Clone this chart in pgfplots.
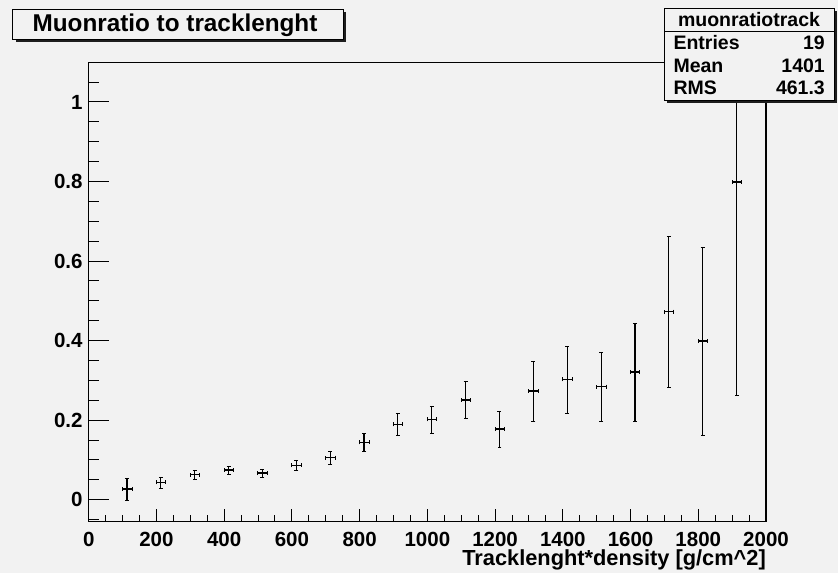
\documentclass[border=0pt]{standalone}
\usepackage{pgfplots}
\pgfplotsset{compat=1.18}
\usepackage{fontspec}
\setmainfont{Liberation Sans}
\definecolor{bg}{RGB}{242,242,242}
\definecolor{shadowc}{RGB}{30,30,30}

\pgfplotstableread{
x y ex ey
113 0.0270 14 0.0280
213 0.0437 14 0.0138
313 0.0629 14 0.0113
413 0.0747 14 0.0104
513 0.0671 14 0.0108
613 0.0865 14 0.0129
713 0.1056 14 0.0167
813 0.1443 14 0.0226
913 0.1896 14 0.0285
1013 0.2022 14 0.0340
1113 0.2507 14 0.0460
1213 0.1778 14 0.0449
1313 0.2733 14 0.0754
1413 0.3027 14 0.0842
1513 0.2841 14 0.0867
1613 0.3211 14 0.1228
1713 0.4727 14 0.1910
1813 0.3990 14 0.2363
1913 0.7988 14 0.5370
}\datatable

\begin{document}
\begin{tikzpicture}[x=1bp,y=1bp]
\fill[bg] (0,0) rectangle (838,573);
\useasboundingbox (0,0) rectangle (838,573);

% main axis: frame, x ticks, data
\begin{axis}[
  at={(88.7bp,51.3bp)}, anchor=south west,
  scale only axis, width=677.3bp, height=459bp,
  xmin=0, xmax=2000, ymin=-0.0553, ymax=1.0988,
  axis line style={line width=1.2bp, black},
  tick align=inside,
  xtick={0,200,400,600,800,1000,1200,1400,1600,1800,2000},
  xticklabels={0,200,400,600,800,1000,1200,1400,1600,1800,2000},
  minor xtick={0,50,...,2000},
  xtick pos=left,
  ytick=\empty,
  major tick length=13bp, minor tick length=6.5bp,
  every tick/.style={line width=1bp, black},
  xticklabel style={font=\fontsize{20.5bp}{24bp}\selectfont\bfseries, anchor=north, inner sep=0pt, yshift=-9.8bp},
  xlabel={Tracklenght*density [g/cm\textasciicircum 2]},
  xlabel style={at={(axis description cs:1,0)}, anchor=base east, inner sep=0pt, yshift=-43.8bp,
    font=\fontsize{21.8bp}{26bp}\selectfont\bfseries},
]
\addplot[draw=none, mark=none,
  error bars/.cd, x dir=both, x explicit, y dir=both, y explicit,
  error bar style={line width=1.1bp, black, draw=black}]
  table[x=x, y=y, x error=ex, y error=ey] {\datatable};
\end{axis}

% second axis: y ticks only
\begin{axis}[
  at={(88.7bp,51.3bp)}, anchor=south west,
  scale only axis, width=677.3bp, height=459bp,
  xmin=0, xmax=2000, ymin=-0.0553, ymax=1.0988,
  axis line style={draw=none},
  tick align=inside,
  xtick=\empty,
  ytick={0,0.2,0.4,0.6,0.8,1},
  yticklabels={0,0.2,0.4,0.6,0.8,1},
  minor ytick={-0.05,0.05,0.1,0.15,0.25,0.3,0.35,0.45,0.5,0.55,0.65,0.7,0.75,0.85,0.9,0.95,1.05},
  ytick pos=left,
  major tick length=20bp, minor tick length=10bp,
  every tick/.style={line width=1bp, black},
  yticklabel style={font=\fontsize{20.5bp}{24bp}\selectfont\bfseries, anchor=east, inner sep=0pt, xshift=-6bp},
]
\end{axis}

% title box
\fill[shadowc] (15.7,530.7) rectangle (346.3,561);
\filldraw[fill=bg, draw=black, line width=0.8bp] (12.7,533.7) rectangle (343.3,564);
\node[font=\fontsize{24.3bp}{29bp}\selectfont\bfseries, inner sep=0pt, anchor=base] at (175,541.3) {Muonratio to tracklenght};

% stats box
\fill[shadowc] (667.3,470) rectangle (837,561.7);
\filldraw[fill=bg, draw=black, line width=0.8bp] (664.3,473) rectangle (834,564.7);
\draw[black, line width=0.8bp] (664.3,541.3) -- (834,541.3);
\begin{scope}[every node/.style={font=\fontsize{19.5bp}{23bp}\selectfont\bfseries, inner sep=0pt}]
\node[anchor=base] at (749,546.3) {muonratiotrack};
\node[anchor=base west] at (673.3,523.7) {Entries};
\node[anchor=base east] at (825,523.7) {19};
\node[anchor=base west] at (673.3,500.3) {Mean};
\node[anchor=base east] at (825,500.3) {1401};
\node[anchor=base west] at (673.3,478.7) {RMS};
\node[anchor=base east] at (825,478.7) {461.3};
\end{scope}
\end{tikzpicture}
\end{document}
